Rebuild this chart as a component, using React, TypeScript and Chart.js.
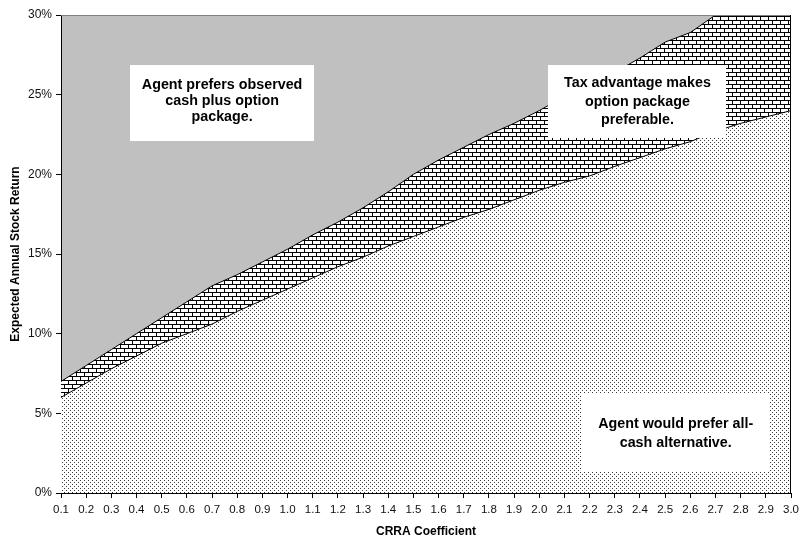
import React, { useEffect, useRef } from "react";
import { Chart, registerables } from "chart.js";

Chart.register(...registerables);

// ---- data ----
const crraLabels = [
  "0.1", "0.2", "0.3", "0.4", "0.5", "0.6", "0.7", "0.8", "0.9", "1.0",
  "1.1", "1.2", "1.3", "1.4", "1.5", "1.6", "1.7", "1.8", "1.9", "2.0",
  "2.1", "2.2", "2.3", "2.4", "2.5", "2.6", "2.7", "2.8", "2.9", "3.0",
];
// boundary below which the agent would prefer the all-cash alternative
const allCashBoundary = [
  6.0, 6.9, 7.8, 8.6, 9.4, 10.0, 10.6, 11.4, 12.1, 12.8,
  13.5, 14.2, 14.8, 15.5, 16.1, 16.7, 17.3, 17.8, 18.4, 19.0,
  19.5, 19.9, 20.5, 21.05, 21.6, 22.05, 22.7, 23.2, 23.6, 24.0,
];
// boundary above which the agent prefers the observed package
const packageBoundary = [
  7.0, 8.0, 9.0, 10.0, 11.0, 12.0, 13.0, 13.7, 14.5, 15.3,
  16.2, 17.0, 17.9, 18.9, 20.0, 20.9, 21.7, 22.5, 23.2, 24.0,
  24.9, 25.6, 26.4, 27.3, 28.3, 28.9, 30.0, 31.2, 32.4, 33.6,
];
const yTickValues = [0, 5, 10, 15, 20, 25, 30];
const xAxisTitle = "CRRA Coefficient";
const yAxisTitle = "Expected Annual Stock Return";
const noteTexts = [
  ["Agent prefers observed", "cash plus option", "package."],
  ["Tax advantage makes", "option package", "preferable."],
  ["Agent would prefer all-", "cash alternative."],
];
// note placement: box center in data coords (category index, %), box size and
// text offsets in px
const noteLayout = [
  { cx: 6.4, cy: 24.5, w: 184, h: 76, lh: 16, ty: -2 },
  { cx: 22.9, cy: 24.55, w: 178, h: 73, lh: 18.5, ty: 0 },
  { cx: 24.42, cy: 3.78, w: 189, h: 78, lh: 19, ty: 0.5 },
];

const FONT = "'Liberation Sans', Arial, sans-serif";

function makeBrick(): CanvasPattern {
  const c = document.createElement("canvas");
  c.width = 8;
  c.height = 8;
  const g = c.getContext("2d")!;
  g.fillStyle = "#ffffff";
  g.fillRect(0, 0, 8, 8);
  g.fillStyle = "#000000";
  g.fillRect(0, 0, 8, 1);
  g.fillRect(0, 4, 8, 1);
  g.fillRect(0, 1, 1, 3);
  g.fillRect(4, 5, 1, 3);
  return g.createPattern(c, "repeat")!;
}

function makeDots(): CanvasPattern {
  const c = document.createElement("canvas");
  c.width = 4;
  c.height = 4;
  const g = c.getContext("2d")!;
  g.fillStyle = "#ffffff";
  g.fillRect(0, 0, 4, 4);
  g.fillStyle = "#3a3a3a";
  g.fillRect(0, 0, 1, 1);
  g.fillRect(2, 2, 1, 1);
  return g.createPattern(c, "repeat")!;
}

export default function App() {
  const ref = useRef<HTMLCanvasElement | null>(null);

  useEffect(() => {
    if (!ref.current) return;
    const bgPlugin = {
      id: "plotBg",
      beforeDraw(chart: any) {
        const { ctx, chartArea: a } = chart;
        ctx.save();
        ctx.fillStyle = "#c0c0c0";
        ctx.fillRect(a.left, a.top, a.right - a.left, a.bottom - a.top);
        ctx.restore();
      },
      afterDraw(chart: any) {
        const { ctx, chartArea: a, scales } = chart;
        ctx.save();
        // plot border top + right
        ctx.strokeStyle = "#808080";
        ctx.lineWidth = 1;
        ctx.beginPath();
        ctx.moveTo(a.left, a.top + 0.5);
        ctx.lineTo(a.right, a.top + 0.5);
        ctx.stroke();
        ctx.strokeStyle = "#000000";
        ctx.beginPath();
        ctx.moveTo(a.right - 0.5, a.top);
        ctx.lineTo(a.right - 0.5, a.bottom);
        ctx.stroke();
        // notes
        noteTexts.forEach((lines, i) => {
          const L = noteLayout[i];
          const cx = scales.x.getPixelForValue(L.cx);
          const cy = scales.y.getPixelForValue(L.cy);
          ctx.fillStyle = "#ffffff";
          ctx.fillRect(Math.round(cx - L.w / 2), Math.round(cy - L.h / 2), L.w, L.h);
          ctx.fillStyle = "#000000";
          ctx.font = `bold 14.3px ${FONT}`;
          ctx.textAlign = "center";
          ctx.textBaseline = "middle";
          const n = lines.length;
          lines.forEach((t, k) => {
            ctx.fillText(t, cx, cy + L.ty + (k - (n - 1) / 2) * L.lh);
          });
        });
        ctx.restore();
      },
    };

    const chart = new Chart(ref.current, {
      type: "line",
      data: {
        labels: crraLabels,
        datasets: [
          {
            data: allCashBoundary,
            borderColor: "#000000",
            borderWidth: 1,
            pointRadius: 0,
            tension: 0,
            fill: "origin",
            backgroundColor: makeDots(),
          },
          {
            data: packageBoundary,
            borderColor: "#000000",
            borderWidth: 1,
            pointRadius: 0,
            tension: 0,
            fill: "-1",
            backgroundColor: makeBrick(),
          },
        ],
      },
      options: {
        animation: false,
        responsive: false,
        maintainAspectRatio: false,
        layout: { padding: { top: 15, right: 11, left: 0, bottom: 0 } },
        plugins: {
          legend: { display: false },
          tooltip: { enabled: false },
        },
        scales: {
          x: {
            type: "category",
            offset: false,
            grid: { drawOnChartArea: false, drawTicks: true, tickLength: 5, color: "#000000" },
            border: { display: true, color: "#000000", width: 1 },
            ticks: {
              autoSkip: false,
              maxRotation: 0,
              minRotation: 0,
              color: "#111111",
              padding: 5,
              font: { family: FONT, size: 11.5 },
            },
            title: {
              display: true,
              text: xAxisTitle,
              color: "#000000",
              padding: { top: 0, bottom: 0 },
              font: { family: FONT, size: 12, weight: "bold" },
            },
            afterFit(s: any) {
              s.height = 46;
            },
          },
          y: {
            type: "linear",
            min: 0,
            max: 30,
            afterBuildTicks(s: any) {
              s.ticks = yTickValues.map((v) => ({ value: v }));
            },
            grid: { drawOnChartArea: false, drawTicks: true, tickLength: 5, color: "#000000" },
            border: { display: true, color: "#000000", width: 1 },
            ticks: {
              color: "#111111",
              padding: 4,
              font: { family: FONT, size: 12 },
              callback: (v: any) => `${v}%`,
            },
            title: {
              display: true,
              text: yAxisTitle,
              color: "#000000",
              padding: { top: 8, bottom: 0 },
              font: { family: FONT, size: 12, weight: "bold" },
            },
            afterFit(s: any) {
              s.width = 61;
            },
          },
        },
      },
      plugins: [bgPlugin],
    } as any);

    return () => chart.destroy();
  }, []);

  return (
    <div style={{ position: "absolute", left: 0, top: 0, width: 804, height: 539, background: "#ffffff" }}>
      <canvas ref={ref} width={804} height={539} style={{ display: "block", width: 804, height: 539 }} />
    </div>
  );
}
